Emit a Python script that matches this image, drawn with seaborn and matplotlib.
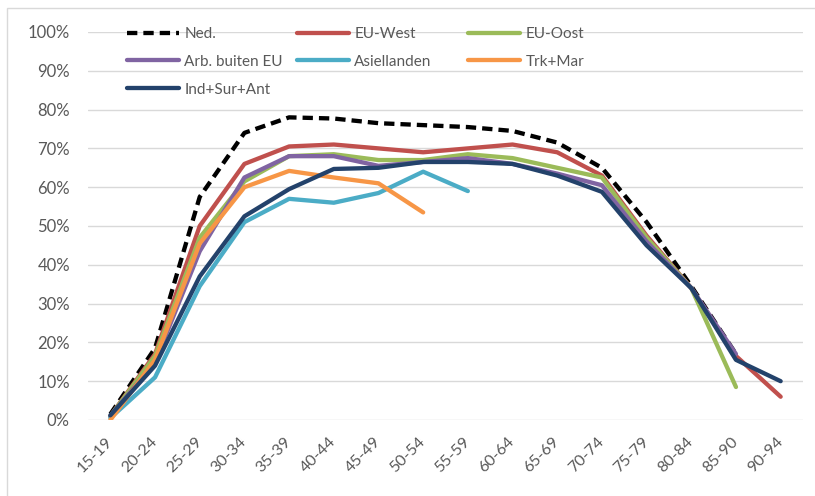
import numpy as np
import pandas as pd
import matplotlib
matplotlib.use("Agg")
import matplotlib.pyplot as plt
from matplotlib.patches import Rectangle
import seaborn as sns

ages = ['15-19', '20-24', '25-29', '30-34', '35-39', '40-44', '45-49', '50-54',
        '55-59', '60-64', '65-69', '70-74', '75-79', '80-84', '85-90', '90-94']

nan = np.nan
ned = [1.5, 18.5, 57.5, 74.0, 78.0, 77.7, 76.5, 76.0, 75.5, 74.5, 71.5, 65.0, 51.0, 34.5, 17.0, nan]
eu_west = [1.0, 17.0, 50.0, 66.0, 70.5, 71.0, 70.0, 69.0, 70.0, 71.0, 69.0, 63.0, 47.5, 34.0, 16.5, 6.0]
eu_oost = [1.0, 16.5, 47.0, 61.5, 68.0, 68.5, 67.0, 67.0, 68.5, 67.5, 65.0, 62.5, 47.0, 34.0, 8.5, nan]
arb_buiten = [1.0, 15.0, 43.5, 62.5, 68.0, 68.0, 65.5, 66.5, 67.5, 66.0, 63.5, 60.5, 46.0, 34.0, 17.0, nan]
asiel = [0.5, 11.0, 34.5, 51.0, 57.0, 56.0, 58.5, 64.0, 59.0, nan, nan, nan, nan, nan, nan, nan]
trk_mar = [0.0, 15.5, 45.5, 60.0, 64.2, 62.5, 61.0, 53.5, nan, nan, nan, nan, nan, nan, nan, nan]
ind_sur_ant = [1.2, 14.0, 37.0, 52.5, 59.5, 64.7, 65.0, 66.5, 66.5, 66.0, 63.0, 58.8, 45.0, 34.0, 15.5, 10.0]

series = {
    'Ned.': ned,
    'EU-West': eu_west,
    'EU-Oost': eu_oost,
    'Arb. buiten EU': arb_buiten,
    'Asiellanden': asiel,
    'Trk+Mar': trk_mar,
    'Ind+Sur+Ant': ind_sur_ant,
}
names = list(series.keys())
colors = ['#000000', '#C0504D', '#9BBB59', '#8064A2', '#4BACC6', '#F79646', '#23426B']
pal = dict(zip(names, colors))
dashes = {n: '' for n in names}
dashes['Ned.'] = (2.4, 1.4)

rows = []
for n in names:
    for i, (a, v) in enumerate(zip(ages, series[n])):
        if not np.isnan(v):
            rows.append({'pos': i, 'age': a, 'group': n, 'val': v / 100.0})
df = pd.DataFrame(rows)

sns.set_style("white")
plt.rcParams['font.family'] = ['Lato', 'DejaVu Sans']

W, H = 815, 496
fig = plt.figure(figsize=(W / 100, H / 100), dpi=100)
fig.patch.set_facecolor('white')
# outer chart border
fig.patches.append(Rectangle((7 / W, -0.05), 1.0, (H - 8) / H + 0.05, transform=fig.transFigure,
                             fill=False, edgecolor='#D9D9D9', linewidth=1.0))

ax = fig.add_axes([88 / W, (H - 420) / H, (803 - 88) / W, (420 - 32) / H])

sns.lineplot(data=df, x='pos', y='val', hue='group', style='group', hue_order=names,
             style_order=names, palette=pal, dashes=dashes, linewidth=3.1,
             estimator=None, sort=False, legend=False, ax=ax)

ax.set_xlim(-0.5, len(ages) - 0.5)
ax.set_ylim(0, 1.0)
ax.set_yticks(np.arange(0, 1.01, 0.1))
ax.set_yticklabels([f'{int(round(t * 100))}%' for t in np.arange(0, 1.01, 0.1)])
ax.set_xticks(range(len(ages)))
ax.set_xticklabels(ages, rotation=45, ha='right', va='center', rotation_mode='anchor')
ax.set_xlabel('')
ax.set_ylabel('')
for s in ax.spines.values():
    s.set_visible(False)
ax.grid(axis='y', color='#D9D9D9', linewidth=1.0)
ax.grid(axis='x', visible=False)
ax.set_axisbelow(True)
ax.tick_params(axis='y', length=0, pad=13, labelsize=12, labelcolor='#595959')
ax.tick_params(axis='x', length=0, pad=14, labelsize=11.5, labelcolor='#595959')

# legend in three columns (row-major like the reference)
lines = ax.get_lines()
handle = {n: lines[i] for i, n in enumerate(names)}
cols = [['Ned.', 'Arb. buiten EU', 'Ind+Sur+Ant'],
        ['EU-West', 'Asiellanden'],
        ['EU-Oost', 'Trk+Mar']]
xstarts = [127, 297, 468]
for col, x0 in zip(cols, xstarts):
    leg = fig.legend([handle[n] for n in col], col, loc='upper left',
                     bbox_to_anchor=(x0 / W, (H - 27) / H), bbox_transform=fig.transFigure,
                     frameon=False, fontsize=11, handlelength=3.4, handletextpad=0.35,
                     borderpad=0, borderaxespad=0, labelspacing=0.9, labelcolor='#595959')

fig.savefig('out.png', dpi=100, facecolor='white')
